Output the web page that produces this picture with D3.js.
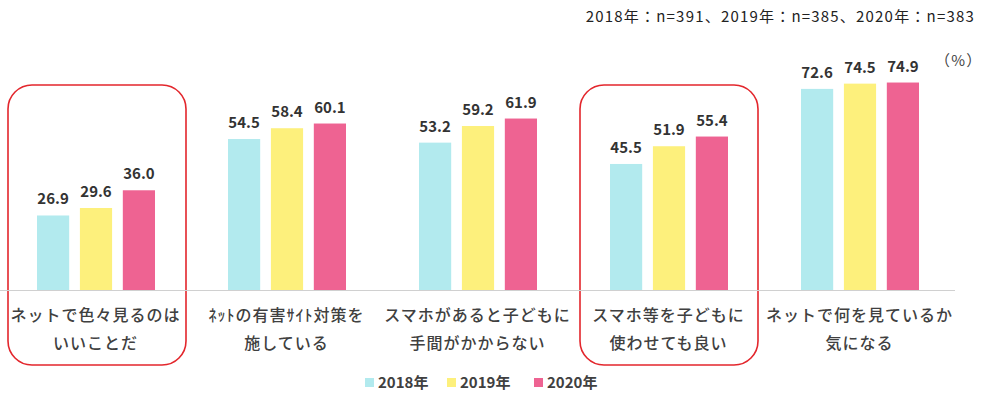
<!DOCTYPE html>
<meta charset="utf-8">
<style>
body { margin: 0; background: #fff; }
text { font-family: "Noto Sans CJK JP", "Noto Sans", sans-serif; }
.val { font-size: 15px; font-weight: bold; fill: #333; }
.cat { font-size: 16px; fill: #404040; letter-spacing: 1px; font-weight: 500; }
.note { font-size: 15px; fill: #222; letter-spacing: 1.2px; }
.legend text { font-size: 15px; font-weight: bold; fill: #404040; }
</style>
<svg width="987" height="399"></svg>
<script src="https://d3js.org/d3.v7.min.js"></script>
<script>

var categories = [
  ["ネットで色々見るのは", "いいことだ"],
  ["ﾈｯﾄの有害ｻｲﾄ対策を", "施している"],
  ["スマホがあると子どもに", "手間がかからない"],
  ["スマホ等を子どもに", "使わせても良い"],
  ["ネットで何を見ているか", "気になる"]
];
var years = ["2018年", "2019年", "2020年"];
var v2018 = [26.9, 54.5, 53.2, 45.5, 72.6];
var v2019 = [29.6, 58.4, 59.2, 51.9, 74.5];
var v2020 = [36.0, 60.1, 61.9, 55.4, 74.9];
var highlighted = [0, 3];
var colors = ["#b2eaee", "#fdf07c", "#ee6392"];

var svg = d3.select("svg");
var series = [v2018, v2019, v2020];

var x = d3.scaleBand()
    .domain(d3.range(categories.length))
    .range([0, 955]);

// bar positions inside one group
var x1 = d3.scaleBand()
    .domain(d3.range(years.length))
    .range([37, 155])
    .paddingInner(0.25);

var y = d3.scaleLinear()
    .domain([0, 100])
    .range([290, 13]);

// highlight boxes
svg.selectAll("rect.hl")
  .data(highlighted)
  .enter().append("rect")
    .attr("class", "hl")
    .attr("x", function(d) { return x(d) + 8 + (d ? -1 : 0); })
    .attr("y", 85)
    .attr("width", 178)
    .attr("height", 280)
    .attr("rx", 24)
    .attr("fill", "none")
    .attr("stroke", "#e3262c")
    .attr("stroke-width", 1.6);

// baseline
svg.append("line")
    .attr("x1", 0).attr("x2", 955)
    .attr("y1", y(0) + 0.5).attr("y2", y(0) + 0.5)
    .attr("stroke", "#d0d0d0");

var groups = svg.selectAll("g.grp")
  .data(categories)
  .enter().append("g")
    .attr("class", "grp")
    .attr("transform", function(d, i) { return "translate(" + x(i) + ",0)"; });

series.forEach(function(s, k) {
  groups.append("rect")
      .attr("x", x1(k))
      .attr("width", x1.bandwidth())
      .attr("y", function(d, i) { return y(s[i]); })
      .attr("height", function(d, i) { return y(0) - y(s[i]); })
      .attr("fill", colors[k]);

  groups.append("text")
      .attr("class", "val")
      .attr("x", x1(k) + x1.bandwidth() / 2)
      .attr("y", function(d, i) { return y(s[i]) - 11; })
      .attr("text-anchor", "middle")
      .text(function(d, i) { return s[i].toFixed(1); });
});

groups.selectAll("text.cat")
  .data(function(d) { return d; })
  .enter().append("text")
    .attr("class", "cat")
    .attr("x", x.bandwidth() / 2)
    .attr("y", function(d, j) { return 321 + j * 28; })
    .attr("text-anchor", "middle")
    .text(function(d) { return d; });

svg.append("text")
    .attr("class", "note")
    .attr("x", 975).attr("y", 22)
    .attr("text-anchor", "end")
    .text("2018年：n=391、2019年：n=385、2020年：n=383");

svg.append("text")
    .attr("class", "note")
    .attr("x", 935).attr("y", 66)
    .style("fill", "#444")
    .text("（%）");

var legend = svg.append("g").attr("class", "legend");
var lx = [365, 447, 534];
years.forEach(function(yr, k) {
  legend.append("rect")
      .attr("x", lx[k]).attr("y", 378)
      .attr("width", 9).attr("height", 9)
      .attr("fill", colors[k]);
  legend.append("text")
      .attr("x", lx[k] + 13).attr("y", 388)
      .text(yr);
});

</script>
